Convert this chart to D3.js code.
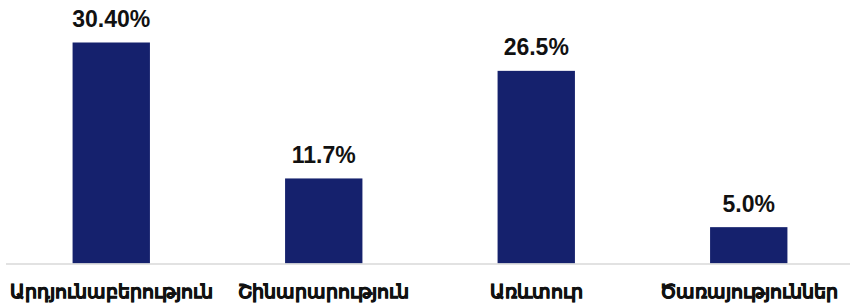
<!DOCTYPE html>
<html>
<head>
<meta charset="utf-8">
<script src="https://cdn.jsdelivr.net/npm/d3@7"></script>
<style>
  body { margin: 0; background: #fff; }
  svg { display: block; }
  .val { font-family: "Liberation Sans", Arial, sans-serif; font-weight: bold; font-size: 23px; fill: #111; }
  .cat { font-family: "Noto Sans", sans-serif; font-weight: bold; font-size: 19px; fill: #111; stroke: #111; stroke-width: 0.6px; }
</style>
</head>
<body>
<div id="chart"></div>
<script>
// sectors
const categories = ["Արդյունաբերություն", "Շինարարություն", "Առևտուր", "Ծառայություններ"];
const values = [30.40, 11.7, 26.5, 5.0];
const valueLabels = ["30.40%", "11.7%", "26.5%", "5.0%"];

const width = 850;
const height = 306;
const baseY = 263.5;

const svg = d3.select("#chart").append("svg")
    .attr("width", width)
    .attr("height", height);

const x = d3.scaleBand()
    .domain(categories)
    .range([5, 855])
    .paddingInner(0.636)
    .paddingOuter(0.318);

const y = d3.scaleLinear()
    .domain([0, 30.4])
    .range([baseY, 42.5]);

// bars
svg.append("g")
  .selectAll("rect")
  .data(values)
  .join("rect")
    .attr("x", (d, i) => x(categories[i]))
    .attr("y", d => y(d))
    .attr("width", x.bandwidth())
    .attr("height", d => y(0) - y(d))
    .attr("fill", "#15216d");

// baseline
svg.append("line")
    .attr("x1", 6)
    .attr("x2", width)
    .attr("y1", baseY + 0.5)
    .attr("y2", baseY + 0.5)
    .attr("stroke", "#d9d9d9")
    .attr("stroke-width", 1.5);

// value labels
svg.append("g")
  .selectAll("text")
  .data(values)
  .join("text")
    .attr("class", "val")
    .attr("text-anchor", "middle")
    .attr("x", (d, i) => x(categories[i]) + x.bandwidth() / 2)
    .attr("y", d => y(d) - 15.5)
    .text((d, i) => valueLabels[i]);

// category labels
svg.append("g")
  .selectAll("text")
  .data(categories)
  .join("text")
    .attr("class", "cat")
    .attr("text-anchor", "middle")
    .attr("x", d => x(d) + x.bandwidth() / 2)
    .attr("y", 298)
    .text(d => d);
</script>
</body>
</html>
